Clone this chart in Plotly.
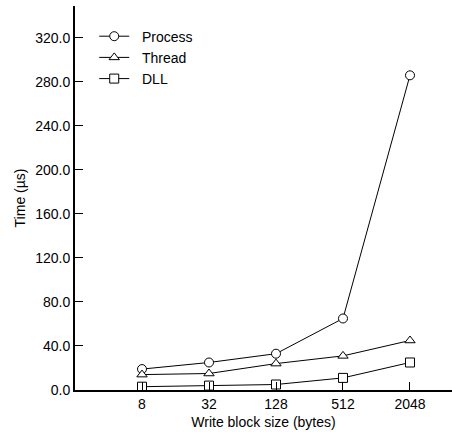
import plotly.graph_objects as go

block_sizes = ["8", "32", "128", "512", "2048"]
process_us = [19, 25, 33, 65, 286]
thread_us = [14, 15, 24, 31, 45]
dll_us = [3, 4, 5, 11, 25]
y_ticks = [0, 40, 80, 120, 160, 200, 240, 280, 320]
y_tick_labels = [f"{v:.1f}" for v in y_ticks]

FONT = "Liberation Sans, Arial, Helvetica, sans-serif"
PAD = "\u00a0\u00a0"

fig = go.Figure()
series = [
    ("Process", process_us, "circle"),
    ("Thread", thread_us, "triangle-up"),
    ("DLL", dll_us, "square"),
]
for name, vals, sym in series:
    fig.add_trace(go.Scatter(
        x=block_sizes, y=vals, name=PAD + name, mode="lines+markers",
        line=dict(color="black", width=1),
        marker=dict(symbol=sym, size=9, color="white",
                    line=dict(color="black", width=1)),
        cliponaxis=False,
    ))

fig.update_layout(
    width=452, height=432,
    margin=dict(l=75, r=0, t=6, b=42),
    paper_bgcolor="white", plot_bgcolor="white",
    font=dict(family=FONT, size=14, color="black"),
    showlegend=True,
    legend=dict(x=0.051, y=0.962, xanchor="left", yanchor="top",
                bgcolor="rgba(0,0,0,0)", font=dict(size=14, color="black"),
                itemwidth=30, tracegroupgap=0),
    xaxis=dict(
        type="category", range=[-1, 4.627],
        showline=True, linecolor="black", linewidth=2,
        ticks="inside", ticklen=8, tickcolor="black", tickwidth=1,
        tickfont=dict(color="black"),
        showgrid=False, zeroline=False,
        title=dict(text="Write block size (bytes)", standoff=6,
                   font=dict(size=14, color="black")),
    ),
    yaxis=dict(
        range=[0, 349], showline=True, linecolor="black", linewidth=2,
        ticks="inside", ticklen=8, tickcolor="black", tickwidth=1,
        tickvals=y_ticks, ticktext=y_tick_labels,
        tickfont=dict(color="black"),
        showgrid=False, zeroline=False,
        title=dict(text="Time (µs)", standoff=6,
                   font=dict(size=14, color="black")),
    ),
)

fig.write_html("out.html")
